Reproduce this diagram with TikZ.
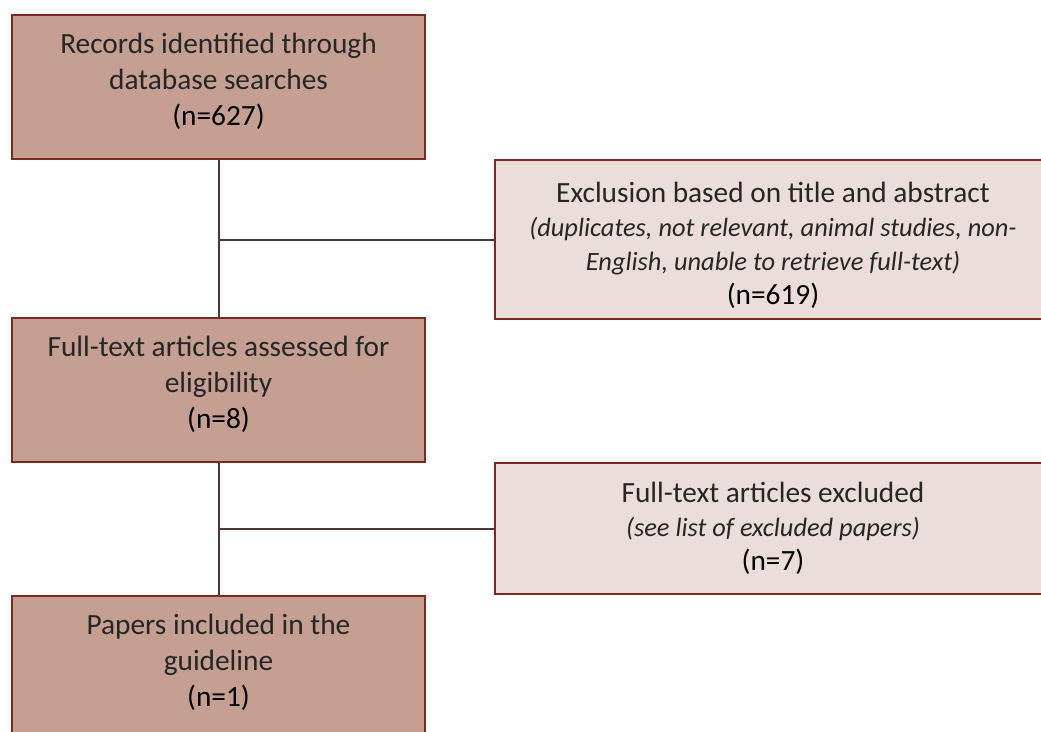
\documentclass[tikz,border=0pt]{standalone}
\usepackage{fontspec}
\setmainfont{Carlito}
\usetikzlibrary{positioning}

\definecolor{boxdark}{HTML}{C49F92}
\definecolor{boxlight}{HTML}{EADDDA}
\definecolor{boxedge}{HTML}{7B2A22}
\definecolor{linkcol}{HTML}{4A3838}
\definecolor{txtcol}{HTML}{262626}

\tikzset{
  stagebox/.style={draw=boxedge, fill=boxdark, line width=1.5pt,
    minimum width=309.75pt, minimum height=108pt, align=center,
    text=txtcol, font=\fontsize{22}{27}\selectfont},
  exclbox/.style={draw=boxedge, fill=boxlight, line width=1.5pt,
    minimum width=417pt, align=center,
    text=txtcol, font=\fontsize{22}{25.5}\selectfont},
  link/.style={draw=linkcol, line width=1.5pt}
}
% counts in black, with extra depth in the left column
\newcommand{\nval}[1]{\textcolor{black}{#1}}
\newcommand{\nlow}[1]{\textcolor{black}{#1}\rule[-11pt]{0pt}{0pt}}
\newcommand{\note}[1]{{\fontsize{19.8}{25.5}\selectfont\itshape #1}}

\begin{document}
\begin{tikzpicture}[x=0.75pt,y=-0.75pt]
\useasboundingbox (0,0) rectangle (1041,731);
\clip (0,0) rectangle (1041,731);
%boxes
\node[stagebox] (records) at (218.5,87) {Records identified through\\database searches\\\nlow{(n=627)}};
\node[exclbox, minimum height=119.25pt] (screen) at (773,239.5) {\rule{0pt}{24pt}Exclusion based on title and abstract\\\note{(duplicates, not relevant, animal studies, non-}\\\note{English, unable to retrieve full-text)}\\\nval{(n=619)}};
\node[stagebox] (fulltext) at (218.5,389.5) {Full-text articles assessed for\\eligibility\\\nlow{(n=8)}};
\node[exclbox, minimum height=98.25pt] (excluded) at (773,528.5) {Full-text articles excluded\\\note{(see list of excluded papers)}\\\nval{(n=7)}};
\node[stagebox, anchor=north] (included) at (218.5,595) {Papers included in the\\guideline\\\nlow{(n=1)}};
%lines
\draw[link] (records.south) -- (fulltext.north);
\draw[link] (screen.west) -- (screen.west -| records.south);
\draw[link] (fulltext.south) -- (included.north);
\draw[link] (excluded.west) -- (excluded.west -| fulltext.south);
\end{tikzpicture}
\end{document}
